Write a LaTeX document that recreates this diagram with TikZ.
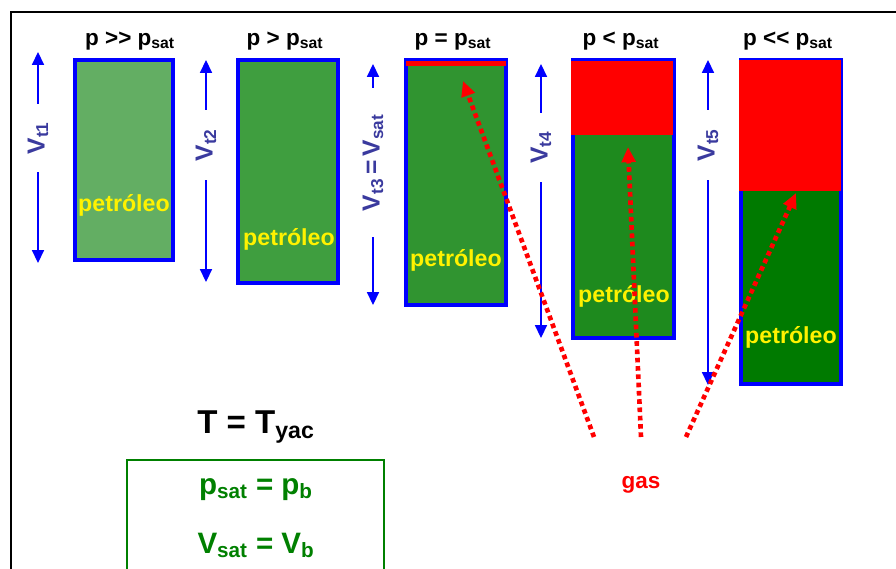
\documentclass[tikz,border=0pt]{standalone}
\usepackage{fontspec}
\setmainfont{Liberation Sans}
\usepackage{xcolor}
\usetikzlibrary{arrows.meta}
\definecolor{vblue}{RGB}{58,58,158}
\definecolor{oilA}{RGB}{99,174,99}
\definecolor{oilB}{RGB}{63,158,63}
\definecolor{oilC}{RGB}{48,148,48}
\definecolor{oilD}{RGB}{30,138,30}
\definecolor{oilE}{RGB}{0,122,0}
\definecolor{boxgreen}{RGB}{0,128,0}
\newcommand{\lo}[1]{\textsubscript{#1}}

\begin{document}
\begin{tikzpicture}[x=0.025cm, y=-0.025cm,
  tank/.style={draw=blue, line width=2.8pt, inner sep=0pt},
  hdr/.style={anchor=base, font=\bfseries\fontsize{16}{19}\selectfont},
  oil/.style={text=yellow, font=\bfseries\fontsize{16.5}{19}\selectfont},
  vlab/.style={rotate=90, inner sep=0pt, text=vblue, font=\bfseries\fontsize{17.5}{20}\selectfont},
  varrow/.style={draw=blue, line width=0.9pt, -{Triangle[length=0.32cm,width=0.3cm]}},
  gasarrow/.style={draw=red, line width=3.3pt, dash pattern=on 3.3pt off 2.6pt, -{Triangle[length=0.38cm,width=0.34cm]}}]
\useasboundingbox (0,0) rectangle (896,568);

\draw[line width=1.3pt] (11,575) -- (11,12) -- (900,12);

\node[tank, fill=oilA, minimum width=2.45cm, minimum height=5cm] (t1) at (124,160) {};
\node[tank, fill=oilB, minimum width=2.5cm, minimum height=5.575cm] (t2) at (288,171.5) {};
\node[tank, fill=oilC, minimum width=2.5cm, minimum height=6.125cm] (t3) at (456,182.5) {};
\node[tank, fill=oilD, minimum width=2.525cm, minimum height=6.95cm] (t4) at (623.5,199) {};
\node[tank, fill=oilE, minimum width=2.5cm, minimum height=8.1cm] (t5) at (791,222) {};

\fill[red] (406,61) rectangle (506,66);
\fill[red] (571,61) rectangle (673,135);
\fill[red] (739,60) rectangle (841,191);

\node[hdr] (h1) at (130,45) {p >{}> p\lo{sat}};
\node[hdr] (h2) at (285,45) {p > p\lo{sat}};
\node[hdr] (h3) at (453,45) {p = p\lo{sat}};
\node[hdr] (h4) at (621,45) {p < p\lo{sat}};
\node[hdr] (h5) at (788,45) {p <{}< p\lo{sat}};

\node[oil] (o1) at (124,205) {petróleo};
\node[oil] (o2) at (289,239) {petróleo};
\node[oil] (o3) at (456,260) {petróleo};
\node[oil] (o4) at (624,296) {petróleo};
\node[oil] (o5) at (791,337) {petróleo};

\node[vlab, minimum width=1.7cm] (v1) at (38,138) {V\lo{t1}};
\node[vlab, minimum width=1.75cm] (v2) at (206,145) {V\lo{t2}};
\node[vlab, minimum width=3.725cm] (v3) at (373,162.5) {V\lo{t3}\,=\,V\lo{sat}};
\node[vlab, minimum width=1.725cm] (v4) at (541,147.5) {V\lo{t4}};
\node[vlab, minimum width=1.75cm] (v5) at (708,145) {V\lo{t5}};

\coordinate (v1u) at (38,52);
\coordinate (v1d) at (38,263);
\coordinate (v2u) at (206,60);
\coordinate (v2d) at (206,282);
\coordinate (v3u) at (373,64);
\coordinate (v3d) at (373,305);
\coordinate (v4u) at (541,64);
\coordinate (v4d) at (541,338);
\coordinate (v5u) at (708,60);
\coordinate (v5d) at (708,385);

\draw[varrow] (v1) -- (v1u);
\draw[varrow] (v1) -- (v1d);
\draw[varrow] (v2) -- (v2u);
\draw[varrow] (v2) -- (v2d);
\draw[varrow] (v3) -- (v3u);
\draw[varrow] (v3) -- (v3d);
\draw[varrow] (v4) -- (v4u);
\draw[varrow] (v4) -- (v4d);
\draw[varrow] (v5) -- (v5u);
\draw[varrow] (v5) -- (v5d);

\coordinate (g1) at (594,437);
\coordinate (g2) at (641,437);
\coordinate (g3) at (686,437);
\coordinate (b3) at (463,81);
\coordinate (b4) at (628,147);
\coordinate (b5) at (796,193);

\draw[gasarrow] (g1) -- (b3);
\draw[gasarrow] (g2) -- (b4);
\draw[gasarrow] (g3) -- (b5);

\node[anchor=base, text=red, font=\bfseries\fontsize{16}{19}\selectfont] (gas) at (641,488) {gas};

\node[anchor=base, font=\bfseries\fontsize{23.5}{28}\selectfont] (temp) at (256,433) {T = T\lo{yac}};

\draw[draw=boxgreen, line width=0.8pt] (127,575) -- (127,460) -- (384,460) -- (384,575);
\node[anchor=base, text=boxgreen, font=\bfseries\fontsize{21}{25}\selectfont] (psat) at (256,494) {p\lo{sat} = p\lo{b}};
\node[anchor=base, text=boxgreen, font=\bfseries\fontsize{21}{25}\selectfont] (vsat) at (256,553) {V\lo{sat} = V\lo{b}};
\end{tikzpicture}
\end{document}
